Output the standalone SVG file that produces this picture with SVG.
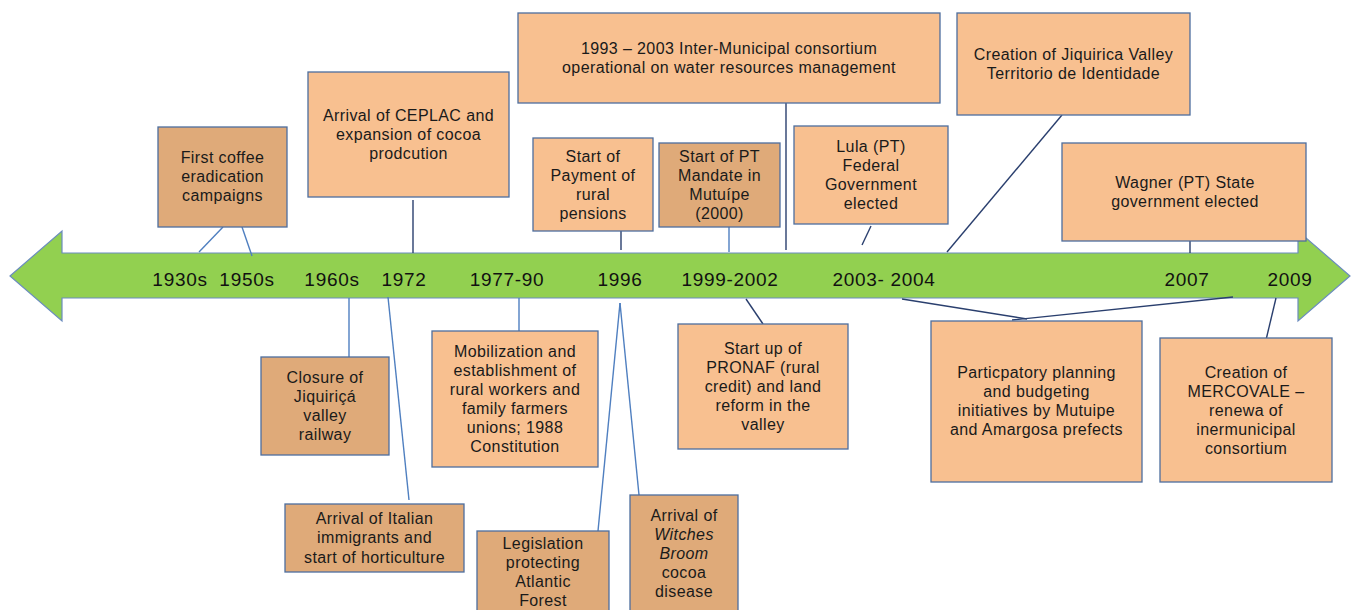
<svg xmlns="http://www.w3.org/2000/svg" width="1354" height="610" viewBox="0 0 1354 610">
<style>
.lt{fill:#F8C090;stroke:#4D6E9E;stroke-width:1.3}
.dk{fill:#DFAA79;stroke:#4D6E9E;stroke-width:1.3}
.t{font-family:"Liberation Sans",Arial,sans-serif;font-size:16px;fill:#1a1a1a;text-anchor:middle;letter-spacing:0.4px}
.yr{font-family:"Liberation Sans",Arial,sans-serif;font-size:19px;fill:#111;text-anchor:middle;letter-spacing:0.7px}
.cn{stroke:#2A3F6E;stroke-width:1.4;fill:none}
.cl{stroke:#4F7FC0;stroke-width:1.4;fill:none}
</style>
<rect width="1354" height="610" fill="#fff"/>
<g id="timeline">
<polygon points="10,276 62,231 62,253 1298,253 1298,231 1350,276 1298,321 1298,298 62,298 62,321" fill="#92D050" stroke="#6B8CBF" stroke-width="1.2"/>
</g>
<g id="connectors">
<line class="cl" x1="223" y1="227" x2="199" y2="252"/>
<line class="cl" x1="242" y1="227" x2="252" y2="256"/>
<line class="cn" x1="413" y1="200" x2="413" y2="253"/>
<line class="cn" x1="786" y1="103" x2="786" y2="250"/>
<line class="cn" x1="621" y1="231" x2="621" y2="250"/>
<line class="cl" x1="729" y1="227" x2="729" y2="252"/>
<line class="cn" x1="871" y1="226" x2="862" y2="245"/>
<line class="cn" x1="1062" y1="115" x2="947" y2="252"/>
<line class="cn" x1="1190" y1="241" x2="1190" y2="253"/>
<line class="cl" x1="349" y1="298" x2="349" y2="357"/>
<line class="cl" x1="388" y1="297" x2="409" y2="500"/>
<line class="cl" x1="519" y1="298" x2="519" y2="331"/>
<line class="cl" x1="620" y1="303" x2="598" y2="531"/>
<line class="cl" x1="620" y1="303" x2="639" y2="495"/>
<line class="cn" x1="746" y1="299" x2="763" y2="324"/>
<line class="cn" x1="902" y1="299" x2="1027" y2="319"/>
<line class="cn" x1="1012" y1="320" x2="1233" y2="297"/>
<line class="cn" x1="1276" y1="298" x2="1266" y2="340"/>
</g>
<g id="years">
<text class="yr" x="180" y="286">1930s</text>
<text class="yr" x="247" y="286">1950s</text>
<text class="yr" x="332" y="286">1960s</text>
<text class="yr" x="404" y="286">1972</text>
<text class="yr" x="507" y="286">1977-90</text>
<text class="yr" x="620" y="286">1996</text>
<text class="yr" x="730" y="286">1999-2002</text>
<text class="yr" x="884" y="286">2003- 2004</text>
<text class="yr" x="1187" y="286">2007</text>
<text class="yr" x="1290" y="286">2009</text>
</g>
<g id="n-coffee">
<rect class="dk" x="158" y="127" width="129" height="100"/>
<text class="t" x="222.5" y="163">First coffee</text>
<text class="t" x="222.5" y="182">eradication</text>
<text class="t" x="222.5" y="201">campaigns</text>
</g>
<g id="n-ceplac">
<rect class="lt" x="308" y="72" width="201" height="125"/>
<text class="t" x="408.5" y="121">Arrival of CEPLAC and</text>
<text class="t" x="408.5" y="140">expansion of cocoa</text>
<text class="t" x="408.5" y="159">prodcution</text>
</g>
<g id="n-consortium">
<rect class="lt" x="518" y="13" width="422" height="90"/>
<text class="t" x="729" y="54">1993 – 2003 Inter-Municipal consortium</text>
<text class="t" x="729" y="73">operational on water resources management</text>
</g>
<g id="n-pensions">
<rect class="lt" x="533" y="138" width="120" height="93"/>
<text class="t" x="593" y="162">Start of</text>
<text class="t" x="593" y="181">Payment of</text>
<text class="t" x="593" y="200">rural</text>
<text class="t" x="593" y="219">pensions</text>
</g>
<g id="n-pt">
<rect class="dk" x="659" y="143" width="121" height="84"/>
<text class="t" x="719.5" y="162">Start of PT</text>
<text class="t" x="719.5" y="181">Mandate in</text>
<text class="t" x="719.5" y="200">Mutuípe</text>
<text class="t" x="719.5" y="219">(2000)</text>
</g>
<g id="n-lula">
<rect class="lt" x="794" y="126" width="154" height="98"/>
<text class="t" x="871" y="152">Lula (PT)</text>
<text class="t" x="871" y="171">Federal</text>
<text class="t" x="871" y="190">Government</text>
<text class="t" x="871" y="209">elected</text>
</g>
<g id="n-jiquirica">
<rect class="lt" x="957" y="13" width="233" height="102"/>
<text class="t" x="1073.5" y="60">Creation of Jiquirica Valley</text>
<text class="t" x="1073.5" y="79">Territorio de Identidade</text>
</g>
<g id="n-wagner">
<rect class="lt" x="1062" y="143" width="244" height="98"/>
<text class="t" x="1185" y="188">Wagner (PT) State</text>
<text class="t" x="1185" y="207">government elected</text>
</g>
<g id="n-closure">
<rect class="dk" x="261" y="357" width="128" height="98"/>
<text class="t" x="325" y="383">Closure of</text>
<text class="t" x="325" y="402">Jiquiriçá</text>
<text class="t" x="325" y="421">valley</text>
<text class="t" x="325" y="440">railway</text>
</g>
<g id="n-italian">
<rect class="dk" x="285" y="504" width="179" height="68"/>
<text class="t" x="374.5" y="524">Arrival  of Italian</text>
<text class="t" x="374.5" y="543">immigrants and</text>
<text class="t" x="374.5" y="563">start of horticulture</text>
</g>
<g id="n-mobilization">
<rect class="lt" x="432" y="331" width="166" height="136"/>
<text class="t" x="515" y="357">Mobilization and</text>
<text class="t" x="515" y="376">establishment of</text>
<text class="t" x="515" y="395">rural workers and</text>
<text class="t" x="515" y="414">family farmers</text>
<text class="t" x="515" y="433">unions; 1988</text>
<text class="t" x="515" y="452">Constitution</text>
</g>
<g id="n-legislation">
<rect class="dk" x="477" y="531" width="132" height="90"/>
<text class="t" x="543" y="549">Legislation</text>
<text class="t" x="543" y="568">protecting</text>
<text class="t" x="543" y="587">Atlantic</text>
<text class="t" x="543" y="606">Forest</text>
</g>
<g id="n-witches">
<rect class="dk" x="630" y="495" width="108" height="126"/>
<text class="t" x="684" y="521">Arrival  of</text>
<text class="t" x="684" y="540" font-style="italic">Witches</text>
<text class="t" x="684" y="559" font-style="italic">Broom</text>
<text class="t" x="684" y="578">cocoa</text>
<text class="t" x="684" y="597">disease</text>
</g>
<g id="n-pronaf">
<rect class="lt" x="678" y="324" width="170" height="125"/>
<text class="t" x="763" y="354">Start up of</text>
<text class="t" x="763" y="373">PRONAF (rural</text>
<text class="t" x="763" y="392">credit) and land</text>
<text class="t" x="763" y="411">reform in the</text>
<text class="t" x="763" y="430">valley</text>
</g>
<g id="n-participatory">
<rect class="lt" x="931" y="321" width="211" height="161"/>
<text class="t" x="1036.5" y="378">Particpatory planning</text>
<text class="t" x="1036.5" y="397">and budgeting</text>
<text class="t" x="1036.5" y="416">initiatives by  Mutuipe</text>
<text class="t" x="1036.5" y="435">and Amargosa prefects</text>
</g>
<g id="n-mercovale">
<rect class="lt" x="1160" y="338" width="172" height="144"/>
<text class="t" x="1246" y="378">Creation of</text>
<text class="t" x="1246" y="397">MERCOVALE –</text>
<text class="t" x="1246" y="416">renewa of</text>
<text class="t" x="1246" y="435">inermunicipal</text>
<text class="t" x="1246" y="454">consortium</text>
</g>
</svg>
